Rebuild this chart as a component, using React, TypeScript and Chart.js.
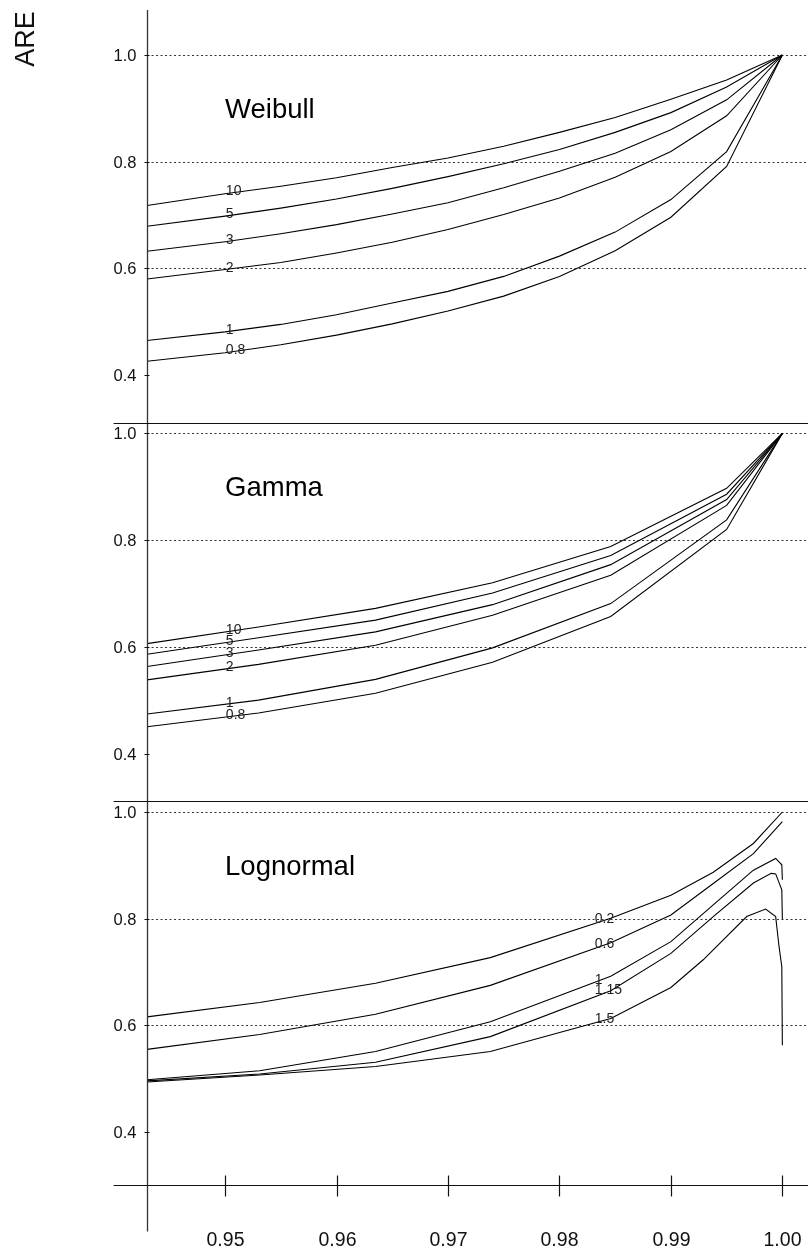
import React, { useEffect, useRef } from "react";
import { Chart, registerables } from "chart.js";

Chart.register(...registerables);

// ---------- Data ----------
const X_TICKS = [0.95, 0.96, 0.97, 0.98, 0.99, 1.0];
const X_TICK_LABELS = ["0.95", "0.96", "0.97", "0.98", "0.99", "1.00"];
const Y_TICKS = [1.0, 0.8, 0.6, 0.4];
const Y_TICK_LABELS = ["1.0", "0.8", "0.6", "0.4"];
const Y_GRID = [1.0, 0.8, 0.6];
const Y_TITLE = "ARE";
const PANEL_TITLES = ["Weibull", "Gamma", "Lognormal"];

// Weibull panel
const WEIBULL_X = [0.943, 0.95, 0.955, 0.96, 0.965, 0.97, 0.975, 0.98, 0.985, 0.99, 0.995, 1.0];
const WEIBULL_LABELS = ["10", "5", "3", "2", "1", "0.8"];
const WEIBULL_10 = [0.718, 0.740, 0.754, 0.770, 0.789, 0.807, 0.829, 0.855, 0.883, 0.917, 0.953, 1.0];
const WEIBULL_5 = [0.679, 0.698, 0.713, 0.730, 0.750, 0.772, 0.796, 0.823, 0.855, 0.892, 0.940, 1.0];
const WEIBULL_3 = [0.632, 0.650, 0.665, 0.682, 0.702, 0.723, 0.751, 0.782, 0.816, 0.860, 0.916, 1.0];
const WEIBULL_2 = [0.580, 0.598, 0.611, 0.629, 0.649, 0.673, 0.701, 0.732, 0.771, 0.819, 0.886, 1.0];
const WEIBULL_1 = [0.465, 0.481, 0.495, 0.513, 0.535, 0.557, 0.585, 0.623, 0.668, 0.729, 0.819, 1.0];
const WEIBULL_08 = [0.426, 0.442, 0.457, 0.475, 0.496, 0.520, 0.548, 0.585, 0.633, 0.696, 0.791, 1.0];

// Gamma panel
const GAMMA_X = [0.943, 0.953, 0.9635, 0.974, 0.9846, 0.995, 1.0];
const GAMMA_LABELS = ["10", "5", "3", "2", "1", "0.8"];
const GAMMA_10 = [0.606, 0.637, 0.672, 0.720, 0.788, 0.897, 1.0];
const GAMMA_5 = [0.586, 0.617, 0.650, 0.701, 0.771, 0.886, 1.0];
const GAMMA_3 = [0.563, 0.594, 0.628, 0.679, 0.754, 0.876, 1.0];
const GAMMA_2 = [0.538, 0.567, 0.603, 0.659, 0.734, 0.865, 1.0];
const GAMMA_1 = [0.474, 0.500, 0.539, 0.598, 0.681, 0.838, 1.0];
const GAMMA_08 = [0.450, 0.476, 0.513, 0.571, 0.657, 0.820, 1.0];

// Lognormal panel
const LOGNORMAL_LABELS = ["0.2", "0.6", "1", "1.15", "1.5"];
const LOGN_02_X = [0.943, 0.9531, 0.9635, 0.9738, 0.9846, 0.990, 0.9938, 0.9974, 1.0];
const LOGN_02_Y = [0.616, 0.643, 0.679, 0.727, 0.801, 0.844, 0.887, 0.941, 1.0];
const LOGN_06_X = [0.943, 0.9531, 0.9635, 0.9738, 0.9846, 0.990, 0.9938, 0.9974, 1.0];
const LOGN_06_Y = [0.555, 0.583, 0.621, 0.675, 0.755, 0.807, 0.866, 0.922, 0.982];
const LOGN_1_X = [0.943, 0.9531, 0.9635, 0.9738, 0.9846, 0.990, 0.9938, 0.9974, 0.9994, 0.99995, 1.0];
const LOGN_1_Y = [0.498, 0.515, 0.551, 0.607, 0.692, 0.757, 0.826, 0.891, 0.913, 0.901, 0.873];
const LOGN_115_X = [0.943, 0.9531, 0.9635, 0.9738, 0.9846, 0.990, 0.9938, 0.9974, 0.999, 0.9994, 0.99995, 1.0];
const LOGN_115_Y = [0.496, 0.509, 0.531, 0.579, 0.665, 0.735, 0.804, 0.867, 0.885, 0.884, 0.854, 0.799];
const LOGN_15_X = [0.943, 0.9531, 0.9635, 0.9738, 0.9846, 0.990, 0.9929, 0.9968, 0.9985, 0.9994, 0.9997, 0.99995, 1.0];
const LOGN_15_Y = [0.494, 0.507, 0.523, 0.551, 0.613, 0.671, 0.723, 0.804, 0.818, 0.804, 0.748, 0.710, 0.563];

// ---------- Layout constants ----------
const W = 808;
const H = 1253;
const X_MIN = 0.94;
const X_MAX = 1.0023;
const Y_AXIS_AT = 0.943;
const AREA_TOP = 10;
const AREA_BOTTOM = 1185.3;
const UNIT_PX = 533.5;
const PANEL_ONE_PX = [55, 433.4, 812];
const PANEL_FLOOR = 0.311;
const TITLE_VALUE = 0.882;
const CURVE_LABEL_X = [0.9507, 0.9507, 0.9838];
const FONT = "'Liberation Sans', Arial, Helvetica, sans-serif";

const SPAN = (AREA_BOTTOM - AREA_TOP) / UNIT_PX;
const panelMax = (i: number) => 1 + (PANEL_ONE_PX[i] - AREA_TOP) / UNIT_PX;

type Series = { xs: number[]; ys: number[]; label: string };

const PANELS: { axis: string; series: Series[] }[] = [
  {
    axis: "yW",
    series: [WEIBULL_10, WEIBULL_5, WEIBULL_3, WEIBULL_2, WEIBULL_1, WEIBULL_08].map((ys, i) => ({
      xs: WEIBULL_X,
      ys,
      label: WEIBULL_LABELS[i],
    })),
  },
  {
    axis: "yG",
    series: [GAMMA_10, GAMMA_5, GAMMA_3, GAMMA_2, GAMMA_1, GAMMA_08].map((ys, i) => ({
      xs: GAMMA_X,
      ys,
      label: GAMMA_LABELS[i],
    })),
  },
  {
    axis: "yL",
    series: [
      [LOGN_02_X, LOGN_02_Y],
      [LOGN_06_X, LOGN_06_Y],
      [LOGN_1_X, LOGN_1_Y],
      [LOGN_115_X, LOGN_115_Y],
      [LOGN_15_X, LOGN_15_Y],
    ].map(([xs, ys], i) => ({ xs, ys, label: LOGNORMAL_LABELS[i] })),
  },
];

function interp(xs: number[], ys: number[], x: number): number {
  for (let i = 0; i < xs.length - 1; i++) {
    if (x >= xs[i] && x <= xs[i + 1]) {
      const t = (x - xs[i]) / (xs[i + 1] - xs[i]);
      return ys[i] + t * (ys[i + 1] - ys[i]);
    }
  }
  return ys[ys.length - 1];
}

const decorPlugin = {
  id: "decor",
  beforeDatasetsDraw(chart: any) {
    const ctx = chart.ctx;
    const xs = chart.scales.x;
    const area = chart.chartArea;
    const x0 = xs.getPixelForValue(Y_AXIS_AT);
    ctx.save();
    ctx.strokeStyle = "#333";
    ctx.lineWidth = 1;
    ctx.setLineDash([2, 2.5]);
    PANELS.forEach((p) => {
      const ys = chart.scales[p.axis];
      Y_GRID.forEach((v) => {
        const y = Math.round(ys.getPixelForValue(v)) + 0.5;
        ctx.beginPath();
        ctx.moveTo(x0, y);
        ctx.lineTo(area.right, y);
        ctx.stroke();
      });
    });
    ctx.restore();
  },
  afterDatasetsDraw(chart: any) {
    const ctx = chart.ctx;
    const xs = chart.scales.x;
    const area = chart.chartArea;
    const x0 = Math.round(xs.getPixelForValue(Y_AXIS_AT)) + 0.5;
    const axisY = Math.round(area.bottom) + 0.5;
    ctx.save();
    ctx.setLineDash([]);

    // vertical axis
    ctx.strokeStyle = "#333";
    ctx.lineWidth = 1.3;
    ctx.beginPath();
    ctx.moveTo(x0, area.top);
    ctx.lineTo(x0, axisY + 46);
    ctx.stroke();

    // panel separators and x axis
    ctx.strokeStyle = "#111";
    ctx.lineWidth = 1.2;
    const seps = [
      chart.scales.yW.getPixelForValue(PANEL_FLOOR),
      chart.scales.yG.getPixelForValue(PANEL_FLOOR),
    ].map((v: number) => Math.round(v) + 0.5);
    [...seps, axisY].forEach((y) => {
      ctx.beginPath();
      ctx.moveTo(area.left, y);
      ctx.lineTo(area.right, y);
      ctx.stroke();
    });

    // x ticks and labels
    ctx.fillStyle = "#111";
    ctx.font = `19.5px ${FONT}`;
    ctx.textAlign = "center";
    ctx.textBaseline = "middle";
    X_TICKS.forEach((v, i) => {
      const x = Math.round(xs.getPixelForValue(v)) + 0.5;
      ctx.beginPath();
      ctx.moveTo(x, axisY - 10);
      ctx.lineTo(x, axisY + 11);
      ctx.stroke();
      ctx.fillText(X_TICK_LABELS[i], x, axisY + 55);
    });

    // y ticks, labels, titles, curve labels
    PANELS.forEach((p, pi) => {
      const ys = chart.scales[p.axis];
      ctx.font = `16.5px ${FONT}`;
      ctx.textAlign = "right";
      ctx.textBaseline = "middle";
      ctx.lineWidth = 1;
      ctx.fillStyle = "#111";
      Y_TICKS.forEach((v, i) => {
        const y = Math.round(ys.getPixelForValue(v)) + 0.5;
        ctx.beginPath();
        ctx.moveTo(x0 - 3, y);
        ctx.lineTo(x0 + 2, y);
        ctx.stroke();
        ctx.fillText(Y_TICK_LABELS[i], x0 - 11, y + 1);
      });

      ctx.font = `27.5px ${FONT}`;
      ctx.textAlign = "left";
      ctx.textBaseline = "alphabetic";
      ctx.fillStyle = "#000";
      ctx.fillText(PANEL_TITLES[pi], xs.getPixelForValue(0.95), ys.getPixelForValue(TITLE_VALUE));

      ctx.font = `14px ${FONT}`;
      ctx.textBaseline = "middle";
      ctx.fillStyle = "#222";
      p.series.forEach((s) => {
        const w = ctx.measureText(s.label).width;
        const lx = xs.getPixelForValue(CURVE_LABEL_X[pi]) - 7;
        const cx = xs.getValueForPixel(lx + w / 2);
        const y = ys.getPixelForValue(interp(s.xs, s.ys, cx));
        ctx.fillText(s.label, lx, y - 1);
      });
    });

    // y title
    ctx.save();
    ctx.translate(27, 39);
    ctx.rotate(-Math.PI / 2);
    ctx.font = `27px ${FONT}`;
    ctx.fillStyle = "#111";
    ctx.textAlign = "center";
    ctx.textBaseline = "middle";
    ctx.fillText(Y_TITLE, 0, 0);
    ctx.restore();

    ctx.restore();
  },
};

export default function App() {
  const ref = useRef<HTMLCanvasElement | null>(null);

  useEffect(() => {
    if (!ref.current) return;
    const datasets: any[] = [];
    PANELS.forEach((p) => {
      p.series.forEach((s) => {
        datasets.push({
          label: s.label,
          data: s.xs.map((x, i) => ({ x, y: s.ys[i] })),
          yAxisID: p.axis,
          showLine: true,
          borderColor: "#000",
          borderWidth: 1.1,
          pointRadius: 0,
          tension: 0,
          fill: false,
        });
      });
    });

    const yScale = (i: number) => ({
      type: "linear" as const,
      display: false,
      min: panelMax(i) - SPAN,
      max: panelMax(i),
    });

    const chart = new Chart(ref.current, {
      type: "scatter",
      data: { datasets },
      options: {
        animation: false,
        responsive: false,
        devicePixelRatio: 1,
        layout: {
          padding: { left: 113.6, right: 0, top: AREA_TOP, bottom: H - AREA_BOTTOM },
        },
        plugins: { legend: { display: false }, tooltip: { enabled: false } },
        scales: {
          x: { type: "linear", display: false, min: X_MIN, max: X_MAX },
          yW: yScale(0),
          yG: yScale(1),
          yL: yScale(2),
        },
      },
      plugins: [decorPlugin],
    });
    return () => chart.destroy();
  }, []);

  return (
    <div style={{ position: "absolute", left: 0, top: 0, width: W, height: H, background: "#fff" }}>
      <canvas ref={ref} width={W} height={H} style={{ display: "block" }} />
    </div>
  );
}
